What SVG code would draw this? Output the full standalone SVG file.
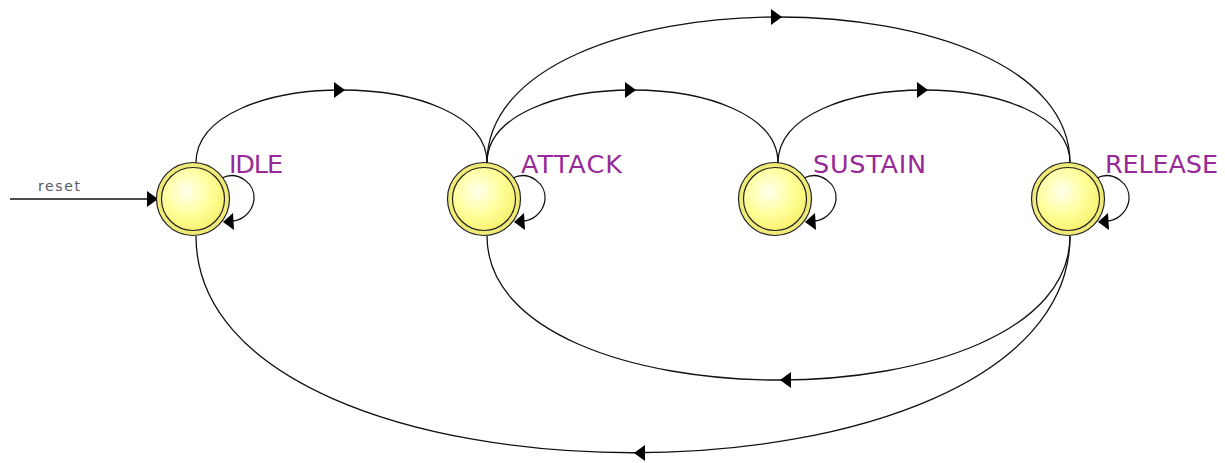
<svg xmlns="http://www.w3.org/2000/svg" width="1225" height="463" viewBox="0 0 1225 463">
  <defs>
    <radialGradient id="fillg" cx="0.4" cy="0.38" r="0.65">
      <stop offset="0" stop-color="#ffffee"/>
      <stop offset="0.6" stop-color="#ffff99"/>
      <stop offset="1" stop-color="#f8f070"/>
    </radialGradient>
    <path id="ahR" d="M-9,-8 L2,0 L-9,8 Z"/>
    <path id="ahL" d="M12,-8 L1,0 L12,8 Z"/>
  </defs>
  <style>
    .ring { fill: #f0ea78; stroke: #222; stroke-width: 1.2; }
    .inner { fill: url(#fillg); stroke: #222; stroke-width: 1.2; }
    .lbl { font-family: "DejaVu Sans", sans-serif; font-size: 25.5px; fill: #972a98; }
    .edge { fill: none; stroke: #111; stroke-width: 1.3; }
    .ah { fill: #000; stroke: none; }
    .small { font-family: "DejaVu Sans", sans-serif; font-size: 14px; fill: #555a66; }
  </style>

  <g id="connectors">
    <!-- reset -->
    <line class="edge" x1="10" y1="199" x2="150" y2="199"/>
    <use href="#ahR" class="ah" transform="translate(156,199)"/>
    <text class="small" x="38" y="191" textLength="42" lengthAdjust="spacing">reset</text>

    <!-- IDLE -> ATTACK -->
    <path class="edge" d="M196,163 C196,65.7 487,65.7 487,163"/>
    <use href="#ahR" class="ah" transform="translate(343,90)"/>
    <!-- ATTACK -> SUSTAIN -->
    <path class="edge" d="M487,163 C487,65.7 778,65.7 778,163"/>
    <use href="#ahR" class="ah" transform="translate(634,90)"/>
    <!-- SUSTAIN -> RELEASE -->
    <path class="edge" d="M778,163 C778,65.7 1070,65.7 1070,163"/>
    <use href="#ahR" class="ah" transform="translate(926,90)"/>
    <!-- ATTACK -> RELEASE (big top) -->
    <path class="edge" d="M487,163 C487,-31.7 1070,-31.7 1070,163"/>
    <use href="#ahR" class="ah" transform="translate(780,17)"/>
    <!-- RELEASE -> ATTACK (bottom) -->
    <path class="edge" d="M1070,236 C1070,428 487,428 487,236"/>
    <use href="#ahL" class="ah" transform="translate(779,380)"/>
    <!-- RELEASE -> IDLE (bottom) -->
    <path class="edge" d="M1070,236 C1070,525 196,525 196,236"/>
    <use href="#ahL" class="ah" transform="translate(633,453)"/>

    <!-- self loops -->
    <path class="edge" d="M222,178 C238,170 256,184 254,200 C252,214 240,221 232,221"/>
    <path class="ah" d="M223,222 L233,213 L234,230 Z"/>
    <path class="edge" d="M513,178 C529,170 547,184 545,200 C543,214 531,221 523,221"/>
    <path class="ah" d="M514,222 L524,213 L525,230 Z"/>
    <path class="edge" d="M804,178 C820,170 838,184 836,200 C834,214 822,221 814,221"/>
    <path class="ah" d="M805,222 L815,213 L816,230 Z"/>
    <path class="edge" d="M1097,178 C1113,170 1131,184 1129,200 C1127,214 1115,221 1107,221"/>
    <path class="ah" d="M1098,222 L1108,213 L1109,230 Z"/>
  </g>

  <g id="node-idle">
    <circle class="ring" cx="193" cy="199" r="36.5"/>
    <circle class="inner" cx="193" cy="199" r="31.5"/>
    <text class="lbl" x="229" y="173" textLength="54" lengthAdjust="spacing">IDLE</text>
  </g>
  <g id="node-attack">
    <circle class="ring" cx="484" cy="199" r="36.5"/>
    <circle class="inner" cx="484" cy="199" r="31.5"/>
    <text class="lbl" x="521" y="173" textLength="101" lengthAdjust="spacing">ATTACK</text>
  </g>
  <g id="node-sustain">
    <circle class="ring" cx="775" cy="199" r="36.5"/>
    <circle class="inner" cx="775" cy="199" r="31.5"/>
    <text class="lbl" x="813" y="173" textLength="113" lengthAdjust="spacing">SUSTAIN</text>
  </g>
  <g id="node-release">
    <circle class="ring" cx="1068" cy="199" r="36.5"/>
    <circle class="inner" cx="1068" cy="199" r="31.5"/>
    <text class="lbl" x="1105" y="173" textLength="113" lengthAdjust="spacing">RELEASE</text>
  </g>
</svg>
